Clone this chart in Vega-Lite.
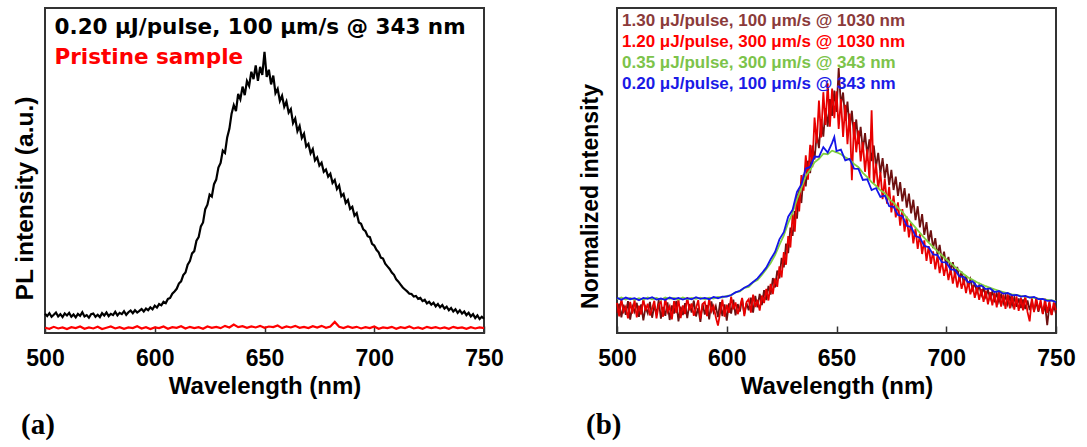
{
"$schema": "https://vega.github.io/schema/vega-lite/v6.json",
"padding": {"left": 11, "top": 7, "right": 5, "bottom": 0},
"bounds": "flush",
"spacing": 133,
"config": {"view": {"stroke": "#333333", "strokeWidth": 2}, "font": "Liberation Sans"},
"datasets": {
"namesA": [{"s": "k", "name": "0.20 μJ/pulse, 100 μm/s @ 343 nm"}, {"s": "r", "name": "Pristine sample"}],
"namesB": [{"s": "m", "name": "1.30 μJ/pulse, 100 μm/s @ 1030 nm"}, {"s": "r", "name": "1.20 μJ/pulse, 300 μm/s @ 1030 nm"}, {"s": "g", "name": "0.35 μJ/pulse, 300 μm/s @ 343 nm"}, {"s": "u", "name": "0.20 μJ/pulse, 100 μm/s @ 343 nm"}],
"a": [
{"s":"r","w":550,"v":1.6},{"s":"r","w":552,"v":1.3},{"s":"r","w":554,"v":1.9},{"s":"r","w":556,"v":1.4},{"s":"r","w":558,"v":1.7},{"s":"r","w":560,"v":1.2},{"s":"r","w":562,"v":1.8},{"s":"r","w":564,"v":1.5},{"s":"r","w":566,"v":2.0},{"s":"r","w":568,"v":1.3},{"s":"r","w":570,"v":1.7},{"s":"r","w":572,"v":1.4},{"s":"r","w":574,"v":1.9},{"s":"r","w":576,"v":1.2},{"s":"r","w":578,"v":1.6},{"s":"r","w":580,"v":2.0},{"s":"r","w":582,"v":1.4},{"s":"r","w":584,"v":1.8},{"s":"r","w":586,"v":1.3},{"s":"r","w":588,"v":1.7},{"s":"r","w":590,"v":1.5},{"s":"r","w":592,"v":2.1},{"s":"r","w":594,"v":1.4},{"s":"r","w":596,"v":1.8},{"s":"r","w":598,"v":1.2},{"s":"r","w":600,"v":1.7},{"s":"r","w":602,"v":1.5},{"s":"r","w":604,"v":2.0},{"s":"r","w":606,"v":1.3},{"s":"r","w":608,"v":1.8},{"s":"r","w":610,"v":1.6},{"s":"r","w":612,"v":2.1},{"s":"r","w":614,"v":1.4},{"s":"r","w":616,"v":1.9},{"s":"r","w":618,"v":1.5},{"s":"r","w":620,"v":1.8},{"s":"r","w":622,"v":1.3},{"s":"r","w":624,"v":2.0},{"s":"r","w":626,"v":1.6},{"s":"r","w":628,"v":1.9},{"s":"r","w":630,"v":1.5},{"s":"r","w":632,"v":2.2},{"s":"r","w":634,"v":1.7},{"s":"r","w":636,"v":2.6},{"s":"r","w":638,"v":1.8},{"s":"r","w":640,"v":2.1},{"s":"r","w":642,"v":1.6},{"s":"r","w":644,"v":2.0},{"s":"r","w":646,"v":1.7},{"s":"r","w":648,"v":2.2},{"s":"r","w":650,"v":1.6},{"s":"r","w":652,"v":2.0},{"s":"r","w":654,"v":1.8},{"s":"r","w":656,"v":2.3},{"s":"r","w":658,"v":1.5},{"s":"r","w":660,"v":2.0},{"s":"r","w":662,"v":1.7},{"s":"r","w":664,"v":2.2},{"s":"r","w":666,"v":1.6},{"s":"r","w":668,"v":1.9},{"s":"r","w":670,"v":1.5},{"s":"r","w":672,"v":2.1},{"s":"r","w":674,"v":1.7},{"s":"r","w":676,"v":2.2},{"s":"r","w":678,"v":1.6},{"s":"r","w":680,"v":2.0},{"s":"r","w":682,"v":3.4},{"s":"r","w":684,"v":1.9},{"s":"r","w":686,"v":1.5},{"s":"r","w":688,"v":2.0},{"s":"r","w":690,"v":1.6},{"s":"r","w":692,"v":1.9},{"s":"r","w":694,"v":1.4},{"s":"r","w":696,"v":1.8},{"s":"r","w":698,"v":1.5},{"s":"r","w":700,"v":2.0},{"s":"r","w":702,"v":1.3},{"s":"r","w":704,"v":1.7},{"s":"r","w":706,"v":1.5},{"s":"r","w":708,"v":1.9},{"s":"r","w":710,"v":1.3},{"s":"r","w":712,"v":1.8},{"s":"r","w":714,"v":1.5},{"s":"r","w":716,"v":2.0},{"s":"r","w":718,"v":1.4},{"s":"r","w":720,"v":1.7},{"s":"r","w":722,"v":1.3},{"s":"r","w":724,"v":1.9},{"s":"r","w":726,"v":1.5},{"s":"r","w":728,"v":1.8},{"s":"r","w":730,"v":1.4},{"s":"r","w":732,"v":1.7},{"s":"r","w":734,"v":1.3},{"s":"r","w":736,"v":1.9},{"s":"r","w":738,"v":1.5},{"s":"r","w":740,"v":1.7},{"s":"r","w":742,"v":1.3},{"s":"r","w":744,"v":1.8},{"s":"r","w":746,"v":1.4},{"s":"r","w":748,"v":1.7},{"s":"r","w":750,"v":1.5},
{"s":"k","w":550,"v":5.9},{"s":"k","w":551,"v":5.2},{"s":"k","w":552,"v":6.1},{"s":"k","w":553,"v":5.0},{"s":"k","w":554,"v":5.6},{"s":"k","w":555,"v":6.3},{"s":"k","w":556,"v":5.1},{"s":"k","w":557,"v":5.8},{"s":"k","w":558,"v":4.9},{"s":"k","w":559,"v":6.0},{"s":"k","w":560,"v":5.4},{"s":"k","w":561,"v":6.2},{"s":"k","w":562,"v":5.0},{"s":"k","w":563,"v":5.7},{"s":"k","w":564,"v":4.8},{"s":"k","w":565,"v":5.9},{"s":"k","w":566,"v":5.3},{"s":"k","w":567,"v":6.4},{"s":"k","w":568,"v":5.1},{"s":"k","w":569,"v":5.5},{"s":"k","w":570,"v":4.7},{"s":"k","w":571,"v":5.8},{"s":"k","w":572,"v":6.0},{"s":"k","w":573,"v":5.0},{"s":"k","w":574,"v":5.6},{"s":"k","w":575,"v":4.9},{"s":"k","w":576,"v":6.1},{"s":"k","w":577,"v":5.4},{"s":"k","w":578,"v":6.3},{"s":"k","w":579,"v":5.2},{"s":"k","w":580,"v":5.9},{"s":"k","w":581,"v":5.5},{"s":"k","w":582,"v":6.5},{"s":"k","w":583,"v":5.4},{"s":"k","w":584,"v":6.2},{"s":"k","w":585,"v":5.8},{"s":"k","w":586,"v":6.7},{"s":"k","w":587,"v":5.6},{"s":"k","w":588,"v":6.4},{"s":"k","w":589,"v":6.9},{"s":"k","w":590,"v":6.1},{"s":"k","w":591,"v":7.0},{"s":"k","w":592,"v":6.3},{"s":"k","w":593,"v":6.8},{"s":"k","w":594,"v":7.4},{"s":"k","w":595,"v":6.6},{"s":"k","w":596,"v":7.5},{"s":"k","w":597,"v":7.0},{"s":"k","w":598,"v":7.9},{"s":"k","w":599,"v":7.3},{"s":"k","w":600,"v":8.4},{"s":"k","w":601,"v":7.8},{"s":"k","w":602,"v":8.9},{"s":"k","w":603,"v":8.5},{"s":"k","w":604,"v":9.6},{"s":"k","w":605,"v":9.2},{"s":"k","w":606,"v":10.5},{"s":"k","w":607,"v":10.8},{"s":"k","w":608,"v":12.1},{"s":"k","w":609,"v":12.8},{"s":"k","w":610,"v":13.6},{"s":"k","w":611,"v":15.2},{"s":"k","w":612,"v":15.9},{"s":"k","w":613,"v":17.8},{"s":"k","w":614,"v":18.6},{"s":"k","w":615,"v":21.0},{"s":"k","w":616,"v":22.1},{"s":"k","w":617,"v":24.5},{"s":"k","w":618,"v":25.2},{"s":"k","w":619,"v":28.4},{"s":"k","w":620,"v":29.5},{"s":"k","w":621,"v":32.8},{"s":"k","w":622,"v":34.0},{"s":"k","w":623,"v":38.1},{"s":"k","w":624,"v":39.5},{"s":"k","w":625,"v":42.6},{"s":"k","w":626,"v":42.0},{"s":"k","w":627,"v":45.8},{"s":"k","w":628,"v":47.2},{"s":"k","w":629,"v":50.9},{"s":"k","w":630,"v":52.3},{"s":"k","w":631,"v":56.1},{"s":"k","w":632,"v":55.4},{"s":"k","w":633,"v":60.2},{"s":"k","w":634,"v":62.8},{"s":"k","w":635,"v":67.5},{"s":"k","w":636,"v":70.1},{"s":"k","w":637,"v":68.3},{"s":"k","w":638,"v":73.6},{"s":"k","w":639,"v":71.9},{"s":"k","w":640,"v":75.8},{"s":"k","w":641,"v":73.2},{"s":"k","w":642,"v":77.5},{"s":"k","w":643,"v":76.0},{"s":"k","w":644,"v":80.4},{"s":"k","w":645,"v":78.1},{"s":"k","w":646,"v":82.3},{"s":"k","w":647,"v":77.6},{"s":"k","w":648,"v":81.9},{"s":"k","w":649,"v":79.4},{"s":"k","w":650,"v":86.5},{"s":"k","w":651,"v":78.8},{"s":"k","w":652,"v":81.0},{"s":"k","w":653,"v":76.5},{"s":"k","w":654,"v":79.2},{"s":"k","w":655,"v":73.8},{"s":"k","w":656,"v":75.1},{"s":"k","w":657,"v":71.4},{"s":"k","w":658,"v":73.0},{"s":"k","w":659,"v":69.6},{"s":"k","w":660,"v":71.2},{"s":"k","w":661,"v":67.8},{"s":"k","w":662,"v":68.9},{"s":"k","w":663,"v":64.6},{"s":"k","w":664,"v":66.0},{"s":"k","w":665,"v":62.1},{"s":"k","w":666,"v":63.7},{"s":"k","w":667,"v":60.0},{"s":"k","w":668,"v":61.3},{"s":"k","w":669,"v":57.4},{"s":"k","w":670,"v":58.2},{"s":"k","w":671,"v":55.3},{"s":"k","w":672,"v":56.6},{"s":"k","w":673,"v":53.1},{"s":"k","w":674,"v":54.0},{"s":"k","w":675,"v":51.5},{"s":"k","w":676,"v":52.4},{"s":"k","w":677,"v":49.6},{"s":"k","w":678,"v":50.3},{"s":"k","w":679,"v":48.1},{"s":"k","w":680,"v":49.0},{"s":"k","w":681,"v":46.2},{"s":"k","w":682,"v":47.1},{"s":"k","w":683,"v":44.3},{"s":"k","w":684,"v":45.4},{"s":"k","w":685,"v":42.1},{"s":"k","w":686,"v":42.8},{"s":"k","w":687,"v":40.0},{"s":"k","w":688,"v":40.9},{"s":"k","w":689,"v":38.2},{"s":"k","w":690,"v":38.8},{"s":"k","w":691,"v":36.1},{"s":"k","w":692,"v":36.9},{"s":"k","w":693,"v":34.0},{"s":"k","w":694,"v":33.6},{"s":"k","w":695,"v":31.9},{"s":"k","w":696,"v":31.3},{"s":"k","w":697,"v":29.8},{"s":"k","w":698,"v":29.5},{"s":"k","w":699,"v":27.4},{"s":"k","w":700,"v":26.9},{"s":"k","w":701,"v":25.6},{"s":"k","w":702,"v":24.8},{"s":"k","w":703,"v":23.2},{"s":"k","w":704,"v":22.9},{"s":"k","w":705,"v":21.3},{"s":"k","w":706,"v":20.5},{"s":"k","w":707,"v":19.7},{"s":"k","w":708,"v":18.6},{"s":"k","w":709,"v":17.9},{"s":"k","w":710,"v":16.5},{"s":"k","w":711,"v":15.8},{"s":"k","w":712,"v":14.9},{"s":"k","w":713,"v":14.0},{"s":"k","w":714,"v":13.4},{"s":"k","w":715,"v":12.8},{"s":"k","w":716,"v":12.1},{"s":"k","w":717,"v":12.0},{"s":"k","w":718,"v":11.2},{"s":"k","w":719,"v":11.4},{"s":"k","w":720,"v":10.5},{"s":"k","w":721,"v":10.8},{"s":"k","w":722,"v":9.8},{"s":"k","w":723,"v":10.2},{"s":"k","w":724,"v":9.1},{"s":"k","w":725,"v":9.6},{"s":"k","w":726,"v":8.7},{"s":"k","w":727,"v":9.3},{"s":"k","w":728,"v":8.2},{"s":"k","w":729,"v":8.9},{"s":"k","w":730,"v":7.9},{"s":"k","w":731,"v":8.6},{"s":"k","w":732,"v":7.5},{"s":"k","w":733,"v":8.1},{"s":"k","w":734,"v":7.0},{"s":"k","w":735,"v":7.7},{"s":"k","w":736,"v":6.6},{"s":"k","w":737,"v":7.3},{"s":"k","w":738,"v":6.2},{"s":"k","w":739,"v":7.0},{"s":"k","w":740,"v":6.0},{"s":"k","w":741,"v":6.6},{"s":"k","w":742,"v":5.5},{"s":"k","w":743,"v":6.2},{"s":"k","w":744,"v":5.1},{"s":"k","w":745,"v":5.8},{"s":"k","w":746,"v":4.6},{"s":"k","w":747,"v":5.4},{"s":"k","w":748,"v":4.3},{"s":"k","w":749,"v":5.0},{"s":"k","w":750,"v":4.4}
],
"b": [
{"s":"m","w":550,"v":6.2},{"s":"m","w":551,"v":9.0},{"s":"m","w":552,"v":4.8},{"s":"m","w":553,"v":8.7},{"s":"m","w":554,"v":5.6},{"s":"m","w":555,"v":9.8},{"s":"m","w":556,"v":4.1},{"s":"m","w":557,"v":8.2},{"s":"m","w":558,"v":6.5},{"s":"m","w":559,"v":9.3},{"s":"m","w":560,"v":5.0},{"s":"m","w":561,"v":8.8},{"s":"m","w":562,"v":3.9},{"s":"m","w":563,"v":7.9},{"s":"m","w":564,"v":6.1},{"s":"m","w":565,"v":9.6},{"s":"m","w":566,"v":4.7},{"s":"m","w":567,"v":8.4},{"s":"m","w":568,"v":5.9},{"s":"m","w":569,"v":10.1},{"s":"m","w":570,"v":4.4},{"s":"m","w":571,"v":8.0},{"s":"m","w":572,"v":5.3},{"s":"m","w":573,"v":9.4},{"s":"m","w":574,"v":4.0},{"s":"m","w":575,"v":8.5},{"s":"m","w":576,"v":6.0},{"s":"m","w":577,"v":9.9},{"s":"m","w":578,"v":3.6},{"s":"m","w":579,"v":8.1},{"s":"m","w":580,"v":5.5},{"s":"m","w":581,"v":9.2},{"s":"m","w":582,"v":4.6},{"s":"m","w":583,"v":8.9},{"s":"m","w":584,"v":6.3},{"s":"m","w":585,"v":10.0},{"s":"m","w":586,"v":5.1},{"s":"m","w":587,"v":7.7},{"s":"m","w":588,"v":3.4},{"s":"m","w":589,"v":9.0},{"s":"m","w":590,"v":5.7},{"s":"m","w":591,"v":8.6},{"s":"m","w":592,"v":4.2},{"s":"m","w":593,"v":9.7},{"s":"m","w":594,"v":6.4},{"s":"m","w":595,"v":8.3},{"s":"m","w":596,"v":4.9},{"s":"m","w":597,"v":9.5},{"s":"m","w":598,"v":5.2},{"s":"m","w":599,"v":8.8},{"s":"m","w":600,"v":3.8},{"s":"m","w":601,"v":9.1},{"s":"m","w":602,"v":6.0},{"s":"m","w":603,"v":10.3},{"s":"m","w":604,"v":5.4},{"s":"m","w":605,"v":8.9},{"s":"m","w":606,"v":6.6},{"s":"m","w":607,"v":10.5},{"s":"m","w":608,"v":5.8},{"s":"m","w":609,"v":9.2},{"s":"m","w":610,"v":7.0},{"s":"m","w":611,"v":10.9},{"s":"m","w":612,"v":6.3},{"s":"m","w":613,"v":11.4},{"s":"m","w":614,"v":7.9},{"s":"m","w":615,"v":12.0},{"s":"m","w":616,"v":8.6},{"s":"m","w":617,"v":13.2},{"s":"m","w":618,"v":10.1},{"s":"m","w":619,"v":14.5},{"s":"m","w":620,"v":11.8},{"s":"m","w":621,"v":16.9},{"s":"m","w":622,"v":14.0},{"s":"m","w":623,"v":19.2},{"s":"m","w":624,"v":16.8},{"s":"m","w":625,"v":23.1},{"s":"m","w":626,"v":20.2},{"s":"m","w":627,"v":27.5},{"s":"m","w":628,"v":24.6},{"s":"m","w":629,"v":32.4},{"s":"m","w":630,"v":29.9},{"s":"m","w":631,"v":37.5},{"s":"m","w":632,"v":35.2},{"s":"m","w":633,"v":44.1},{"s":"m","w":634,"v":40.0},{"s":"m","w":635,"v":48.8},{"s":"m","w":636,"v":45.1},{"s":"m","w":637,"v":53.0},{"s":"m","w":638,"v":49.2},{"s":"m","w":639,"v":57.7},{"s":"m","w":640,"v":53.4},{"s":"m","w":641,"v":61.3},{"s":"m","w":642,"v":56.9},{"s":"m","w":643,"v":65.8},{"s":"m","w":644,"v":60.4},{"s":"m","w":645,"v":69.2},{"s":"m","w":646,"v":63.5},{"s":"m","w":647,"v":72.0},{"s":"m","w":648,"v":66.8},{"s":"m","w":649,"v":74.6},{"s":"m","w":650,"v":68.0},{"s":"m","w":651,"v":81.5},{"s":"m","w":652,"v":70.1},{"s":"m","w":653,"v":74.0},{"s":"m","w":654,"v":65.3},{"s":"m","w":655,"v":71.2},{"s":"m","w":656,"v":62.6},{"s":"m","w":657,"v":68.4},{"s":"m","w":658,"v":60.0},{"s":"m","w":659,"v":65.7},{"s":"m","w":660,"v":58.1},{"s":"m","w":661,"v":63.4},{"s":"m","w":662,"v":56.2},{"s":"m","w":663,"v":61.5},{"s":"m","w":664,"v":54.8},{"s":"m","w":665,"v":59.6},{"s":"m","w":666,"v":52.9},{"s":"m","w":667,"v":57.7},{"s":"m","w":668,"v":51.0},{"s":"m","w":669,"v":55.4},{"s":"m","w":670,"v":49.1},{"s":"m","w":671,"v":53.8},{"s":"m","w":672,"v":47.6},{"s":"m","w":673,"v":52.0},{"s":"m","w":674,"v":45.5},{"s":"m","w":675,"v":50.2},{"s":"m","w":676,"v":44.0},{"s":"m","w":677,"v":48.1},{"s":"m","w":678,"v":42.2},{"s":"m","w":679,"v":46.4},{"s":"m","w":680,"v":40.5},{"s":"m","w":681,"v":44.6},{"s":"m","w":682,"v":38.6},{"s":"m","w":683,"v":42.9},{"s":"m","w":684,"v":36.8},{"s":"m","w":685,"v":41.0},{"s":"m","w":686,"v":34.7},{"s":"m","w":687,"v":39.0},{"s":"m","w":688,"v":32.5},{"s":"m","w":689,"v":36.6},{"s":"m","w":690,"v":30.2},{"s":"m","w":691,"v":34.1},{"s":"m","w":692,"v":28.0},{"s":"m","w":693,"v":31.6},{"s":"m","w":694,"v":26.1},{"s":"m","w":695,"v":29.2},{"s":"m","w":696,"v":24.0},{"s":"m","w":697,"v":27.1},{"s":"m","w":698,"v":22.3},{"s":"m","w":699,"v":25.0},{"s":"m","w":700,"v":20.6},{"s":"m","w":701,"v":23.4},{"s":"m","w":702,"v":19.1},{"s":"m","w":703,"v":21.8},{"s":"m","w":704,"v":17.7},{"s":"m","w":705,"v":20.3},{"s":"m","w":706,"v":16.4},{"s":"m","w":707,"v":18.9},{"s":"m","w":708,"v":15.2},{"s":"m","w":709,"v":17.6},{"s":"m","w":710,"v":14.3},{"s":"m","w":711,"v":16.5},{"s":"m","w":712,"v":13.4},{"s":"m","w":713,"v":15.4},{"s":"m","w":714,"v":12.5},{"s":"m","w":715,"v":14.6},{"s":"m","w":716,"v":11.8},{"s":"m","w":717,"v":13.9},{"s":"m","w":718,"v":11.2},{"s":"m","w":719,"v":13.3},{"s":"m","w":720,"v":10.6},{"s":"m","w":721,"v":12.8},{"s":"m","w":722,"v":10.1},{"s":"m","w":723,"v":12.2},{"s":"m","w":724,"v":9.6},{"s":"m","w":725,"v":11.9},{"s":"m","w":726,"v":9.2},{"s":"m","w":727,"v":11.5},{"s":"m","w":728,"v":8.8},{"s":"m","w":729,"v":11.2},{"s":"m","w":730,"v":8.5},{"s":"m","w":731,"v":10.9},{"s":"m","w":732,"v":8.1},{"s":"m","w":733,"v":10.6},{"s":"m","w":734,"v":7.7},{"s":"m","w":735,"v":10.3},{"s":"m","w":736,"v":7.4},{"s":"m","w":737,"v":10.0},{"s":"m","w":738,"v":7.1},{"s":"m","w":739,"v":9.8},{"s":"m","w":740,"v":6.8},{"s":"m","w":741,"v":9.5},{"s":"m","w":742,"v":6.5},{"s":"m","w":743,"v":9.2},{"s":"m","w":744,"v":5.9},{"s":"m","w":745,"v":8.9},{"s":"m","w":746,"v":2.4},{"s":"m","w":747,"v":8.6},{"s":"m","w":748,"v":5.6},{"s":"m","w":749,"v":8.4},{"s":"m","w":750,"v":6.0},
{"s":"r","w":550,"v":9.3},{"s":"r","w":551,"v":5.1},{"s":"r","w":552,"v":10.5},{"s":"r","w":553,"v":6.6},{"s":"r","w":554,"v":8.1},{"s":"r","w":555,"v":4.5},{"s":"r","w":556,"v":9.6},{"s":"r","w":557,"v":6.0},{"s":"r","w":558,"v":10.2},{"s":"r","w":559,"v":4.8},{"s":"r","w":560,"v":8.4},{"s":"r","w":561,"v":5.7},{"s":"r","w":562,"v":10.5},{"s":"r","w":563,"v":6.9},{"s":"r","w":564,"v":9.0},{"s":"r","w":565,"v":5.4},{"s":"r","w":566,"v":7.5},{"s":"r","w":567,"v":9.9},{"s":"r","w":568,"v":4.5},{"s":"r","w":569,"v":8.7},{"s":"r","w":570,"v":9.6},{"s":"r","w":571,"v":5.0},{"s":"r","w":572,"v":10.8},{"s":"r","w":573,"v":6.5},{"s":"r","w":574,"v":8.2},{"s":"r","w":575,"v":4.2},{"s":"r","w":576,"v":9.8},{"s":"r","w":577,"v":6.1},{"s":"r","w":578,"v":10.4},{"s":"r","w":579,"v":4.6},{"s":"r","w":580,"v":8.5},{"s":"r","w":581,"v":5.8},{"s":"r","w":582,"v":11.0},{"s":"r","w":583,"v":7.0},{"s":"r","w":584,"v":9.1},{"s":"r","w":585,"v":5.3},{"s":"r","w":586,"v":7.6},{"s":"r","w":587,"v":10.1},{"s":"r","w":588,"v":4.4},{"s":"r","w":589,"v":8.9},{"s":"r","w":590,"v":9.5},{"s":"r","w":591,"v":5.2},{"s":"r","w":592,"v":10.6},{"s":"r","w":593,"v":6.7},{"s":"r","w":594,"v":8.3},{"s":"r","w":595,"v":4.9},{"s":"r","w":596,"v":2.3},{"s":"r","w":597,"v":6.3},{"s":"r","w":598,"v":10.3},{"s":"r","w":599,"v":5.0},{"s":"r","w":600,"v":8.7},{"s":"r","w":601,"v":6.2},{"s":"r","w":602,"v":11.2},{"s":"r","w":603,"v":7.3},{"s":"r","w":604,"v":9.4},{"s":"r","w":605,"v":5.8},{"s":"r","w":606,"v":8.0},{"s":"r","w":607,"v":10.8},{"s":"r","w":608,"v":5.2},{"s":"r","w":609,"v":9.5},{"s":"r","w":610,"v":10.4},{"s":"r","w":611,"v":6.3},{"s":"r","w":612,"v":11.8},{"s":"r","w":613,"v":8.0},{"s":"r","w":614,"v":10.2},{"s":"r","w":615,"v":6.9},{"s":"r","w":616,"v":11.5},{"s":"r","w":617,"v":9.2},{"s":"r","w":618,"v":13.6},{"s":"r","w":619,"v":10.0},{"s":"r","w":620,"v":15.1},{"s":"r","w":621,"v":12.0},{"s":"r","w":622,"v":16.8},{"s":"r","w":623,"v":14.2},{"s":"r","w":624,"v":20.5},{"s":"r","w":625,"v":17.1},{"s":"r","w":626,"v":24.9},{"s":"r","w":627,"v":21.0},{"s":"r","w":628,"v":29.8},{"s":"r","w":629,"v":26.3},{"s":"r","w":630,"v":36.5},{"s":"r","w":631,"v":31.2},{"s":"r","w":632,"v":43.0},{"s":"r","w":633,"v":37.4},{"s":"r","w":634,"v":48.6},{"s":"r","w":635,"v":43.8},{"s":"r","w":636,"v":54.7},{"s":"r","w":637,"v":47.2},{"s":"r","w":638,"v":57.9},{"s":"r","w":639,"v":51.0},{"s":"r","w":640,"v":66.3},{"s":"r","w":641,"v":58.4},{"s":"r","w":642,"v":71.5},{"s":"r","w":643,"v":60.2},{"s":"r","w":644,"v":74.1},{"s":"r","w":645,"v":64.0},{"s":"r","w":646,"v":76.8},{"s":"r","w":647,"v":63.5},{"s":"r","w":648,"v":75.2},{"s":"r","w":649,"v":66.1},{"s":"r","w":650,"v":74.4},{"s":"r","w":651,"v":62.8},{"s":"r","w":652,"v":72.0},{"s":"r","w":653,"v":60.3},{"s":"r","w":654,"v":70.2},{"s":"r","w":655,"v":58.1},{"s":"r","w":656,"v":67.5},{"s":"r","w":657,"v":47.0},{"s":"r","w":658,"v":64.9},{"s":"r","w":659,"v":55.6},{"s":"r","w":660,"v":62.3},{"s":"r","w":661,"v":52.8},{"s":"r","w":662,"v":58.7},{"s":"r","w":663,"v":49.6},{"s":"r","w":664,"v":56.5},{"s":"r","w":665,"v":47.2},{"s":"r","w":666,"v":68.5},{"s":"r","w":667,"v":46.0},{"s":"r","w":668,"v":52.1},{"s":"r","w":669,"v":44.3},{"s":"r","w":670,"v":49.5},{"s":"r","w":671,"v":41.2},{"s":"r","w":672,"v":47.4},{"s":"r","w":673,"v":39.8},{"s":"r","w":674,"v":45.0},{"s":"r","w":675,"v":37.1},{"s":"r","w":676,"v":42.3},{"s":"r","w":677,"v":35.6},{"s":"r","w":678,"v":40.2},{"s":"r","w":679,"v":33.0},{"s":"r","w":680,"v":38.1},{"s":"r","w":681,"v":31.2},{"s":"r","w":682,"v":35.8},{"s":"r","w":683,"v":29.4},{"s":"r","w":684,"v":34.0},{"s":"r","w":685,"v":27.6},{"s":"r","w":686,"v":32.1},{"s":"r","w":687,"v":25.9},{"s":"r","w":688,"v":30.4},{"s":"r","w":689,"v":24.3},{"s":"r","w":690,"v":28.5},{"s":"r","w":691,"v":22.2},{"s":"r","w":692,"v":26.7},{"s":"r","w":693,"v":21.3},{"s":"r","w":694,"v":25.1},{"s":"r","w":695,"v":19.6},{"s":"r","w":696,"v":23.9},{"s":"r","w":697,"v":18.4},{"s":"r","w":698,"v":22.2},{"s":"r","w":699,"v":17.6},{"s":"r","w":700,"v":21.0},{"s":"r","w":701,"v":16.3},{"s":"r","w":702,"v":19.8},{"s":"r","w":703,"v":15.2},{"s":"r","w":704,"v":18.9},{"s":"r","w":705,"v":14.0},{"s":"r","w":706,"v":17.5},{"s":"r","w":707,"v":13.6},{"s":"r","w":708,"v":16.4},{"s":"r","w":709,"v":12.3},{"s":"r","w":710,"v":15.8},{"s":"r","w":711,"v":11.9},{"s":"r","w":712,"v":14.6},{"s":"r","w":713,"v":10.8},{"s":"r","w":714,"v":14.1},{"s":"r","w":715,"v":10.2},{"s":"r","w":716,"v":13.5},{"s":"r","w":717,"v":9.6},{"s":"r","w":718,"v":13.0},{"s":"r","w":719,"v":8.8},{"s":"r","w":720,"v":12.6},{"s":"r","w":721,"v":8.5},{"s":"r","w":722,"v":12.3},{"s":"r","w":723,"v":7.9},{"s":"r","w":724,"v":12.8},{"s":"r","w":725,"v":8.1},{"s":"r","w":726,"v":11.9},{"s":"r","w":727,"v":7.4},{"s":"r","w":728,"v":12.2},{"s":"r","w":729,"v":7.6},{"s":"r","w":730,"v":11.6},{"s":"r","w":731,"v":7.2},{"s":"r","w":732,"v":11.3},{"s":"r","w":733,"v":6.8},{"s":"r","w":734,"v":10.9},{"s":"r","w":735,"v":7.0},{"s":"r","w":736,"v":11.5},{"s":"r","w":737,"v":6.5},{"s":"r","w":738,"v":3.6},{"s":"r","w":739,"v":10.8},{"s":"r","w":740,"v":6.4},{"s":"r","w":741,"v":11.0},{"s":"r","w":742,"v":6.9},{"s":"r","w":743,"v":10.2},{"s":"r","w":744,"v":5.8},{"s":"r","w":745,"v":10.6},{"s":"r","w":746,"v":6.2},{"s":"r","w":747,"v":9.8},{"s":"r","w":748,"v":5.5},{"s":"r","w":749,"v":9.4},{"s":"r","w":750,"v":7.0},
{"s":"g","w":550,"v":10.4},{"s":"g","w":552,"v":10.9},{"s":"g","w":554,"v":10.3},{"s":"g","w":556,"v":10.8},{"s":"g","w":558,"v":10.2},{"s":"g","w":560,"v":10.7},{"s":"g","w":562,"v":10.3},{"s":"g","w":564,"v":10.9},{"s":"g","w":566,"v":10.4},{"s":"g","w":568,"v":10.8},{"s":"g","w":570,"v":10.2},{"s":"g","w":572,"v":10.9},{"s":"g","w":574,"v":10.5},{"s":"g","w":576,"v":10.8},{"s":"g","w":578,"v":10.3},{"s":"g","w":580,"v":10.9},{"s":"g","w":582,"v":10.4},{"s":"g","w":584,"v":10.8},{"s":"g","w":586,"v":10.5},{"s":"g","w":588,"v":10.9},{"s":"g","w":590,"v":10.4},{"s":"g","w":592,"v":10.9},{"s":"g","w":594,"v":10.6},{"s":"g","w":596,"v":11.1},{"s":"g","w":598,"v":10.9},{"s":"g","w":600,"v":11.4},{"s":"g","w":602,"v":11.6},{"s":"g","w":604,"v":12.5},{"s":"g","w":606,"v":12.8},{"s":"g","w":608,"v":13.9},{"s":"g","w":610,"v":14.2},{"s":"g","w":612,"v":15.6},{"s":"g","w":614,"v":16.3},{"s":"g","w":616,"v":17.9},{"s":"g","w":618,"v":19.6},{"s":"g","w":620,"v":21.5},{"s":"g","w":622,"v":24.0},{"s":"g","w":624,"v":27.1},{"s":"g","w":626,"v":30.0},{"s":"g","w":628,"v":33.9},{"s":"g","w":630,"v":37.0},{"s":"g","w":632,"v":41.2},{"s":"g","w":634,"v":44.6},{"s":"g","w":636,"v":48.3},{"s":"g","w":638,"v":50.2},{"s":"g","w":640,"v":52.5},{"s":"g","w":642,"v":53.6},{"s":"g","w":644,"v":55.2},{"s":"g","w":646,"v":55.0},{"s":"g","w":648,"v":56.1},{"s":"g","w":650,"v":55.6},{"s":"g","w":652,"v":55.0},{"s":"g","w":654,"v":54.1},{"s":"g","w":656,"v":53.3},{"s":"g","w":658,"v":52.0},{"s":"g","w":660,"v":51.0},{"s":"g","w":662,"v":49.3},{"s":"g","w":664,"v":48.0},{"s":"g","w":666,"v":46.4},{"s":"g","w":668,"v":45.3},{"s":"g","w":670,"v":43.9},{"s":"g","w":672,"v":43.0},{"s":"g","w":674,"v":41.2},{"s":"g","w":676,"v":40.1},{"s":"g","w":678,"v":38.5},{"s":"g","w":680,"v":37.3},{"s":"g","w":682,"v":35.5},{"s":"g","w":684,"v":34.0},{"s":"g","w":686,"v":32.4},{"s":"g","w":688,"v":30.8},{"s":"g","w":690,"v":29.3},{"s":"g","w":692,"v":27.8},{"s":"g","w":694,"v":26.5},{"s":"g","w":696,"v":25.1},{"s":"g","w":698,"v":23.9},{"s":"g","w":700,"v":22.7},{"s":"g","w":702,"v":21.5},{"s":"g","w":704,"v":20.3},{"s":"g","w":706,"v":19.2},{"s":"g","w":708,"v":18.1},{"s":"g","w":710,"v":17.1},{"s":"g","w":712,"v":16.4},{"s":"g","w":714,"v":15.6},{"s":"g","w":716,"v":15.0},{"s":"g","w":718,"v":14.4},{"s":"g","w":720,"v":13.9},{"s":"g","w":722,"v":13.4},{"s":"g","w":724,"v":13.0},{"s":"g","w":726,"v":12.6},{"s":"g","w":728,"v":12.2},{"s":"g","w":730,"v":11.9},{"s":"g","w":732,"v":11.7},{"s":"g","w":734,"v":11.4},{"s":"g","w":736,"v":11.2},{"s":"g","w":738,"v":11.0},{"s":"g","w":740,"v":10.8},{"s":"g","w":742,"v":10.6},{"s":"g","w":744,"v":10.4},{"s":"g","w":746,"v":10.2},{"s":"g","w":748,"v":10.0},{"s":"g","w":750,"v":9.8},
{"s":"u","w":550,"v":10.8},{"s":"u","w":552,"v":10.2},{"s":"u","w":554,"v":10.9},{"s":"u","w":556,"v":10.4},{"s":"u","w":558,"v":10.7},{"s":"u","w":560,"v":10.1},{"s":"u","w":562,"v":10.8},{"s":"u","w":564,"v":10.5},{"s":"u","w":566,"v":11.0},{"s":"u","w":568,"v":10.3},{"s":"u","w":570,"v":10.6},{"s":"u","w":572,"v":10.2},{"s":"u","w":574,"v":10.9},{"s":"u","w":576,"v":10.4},{"s":"u","w":578,"v":10.8},{"s":"u","w":580,"v":10.3},{"s":"u","w":582,"v":10.7},{"s":"u","w":584,"v":10.4},{"s":"u","w":586,"v":11.0},{"s":"u","w":588,"v":10.5},{"s":"u","w":590,"v":10.8},{"s":"u","w":592,"v":10.4},{"s":"u","w":594,"v":11.1},{"s":"u","w":596,"v":10.7},{"s":"u","w":598,"v":11.2},{"s":"u","w":600,"v":11.2},{"s":"u","w":602,"v":11.7},{"s":"u","w":604,"v":12.5},{"s":"u","w":606,"v":13.0},{"s":"u","w":608,"v":13.9},{"s":"u","w":610,"v":14.6},{"s":"u","w":612,"v":15.7},{"s":"u","w":614,"v":16.8},{"s":"u","w":616,"v":18.4},{"s":"u","w":618,"v":20.1},{"s":"u","w":620,"v":22.7},{"s":"u","w":622,"v":24.9},{"s":"u","w":624,"v":28.8},{"s":"u","w":626,"v":31.0},{"s":"u","w":628,"v":35.8},{"s":"u","w":630,"v":37.9},{"s":"u","w":632,"v":43.4},{"s":"u","w":634,"v":45.7},{"s":"u","w":636,"v":50.6},{"s":"u","w":638,"v":51.1},{"s":"u","w":640,"v":54.3},{"s":"u","w":642,"v":54.2},{"s":"u","w":644,"v":57.2},{"s":"u","w":646,"v":55.5},{"s":"u","w":648,"v":58.5},{"s":"u","w":649,"v":60.3},{"s":"u","w":650,"v":56.0},{"s":"u","w":652,"v":56.4},{"s":"u","w":654,"v":53.1},{"s":"u","w":656,"v":53.6},{"s":"u","w":658,"v":50.6},{"s":"u","w":660,"v":50.5},{"s":"u","w":662,"v":47.1},{"s":"u","w":664,"v":47.3},{"s":"u","w":666,"v":44.0},{"s":"u","w":668,"v":44.6},{"s":"u","w":670,"v":41.9},{"s":"u","w":672,"v":42.3},{"s":"u","w":674,"v":39.0},{"s":"u","w":676,"v":38.8},{"s":"u","w":678,"v":36.3},{"s":"u","w":680,"v":36.0},{"s":"u","w":682,"v":33.0},{"s":"u","w":684,"v":32.6},{"s":"u","w":686,"v":29.8},{"s":"u","w":688,"v":29.3},{"s":"u","w":690,"v":26.8},{"s":"u","w":692,"v":26.4},{"s":"u","w":694,"v":24.2},{"s":"u","w":696,"v":24.0},{"s":"u","w":698,"v":21.8},{"s":"u","w":700,"v":21.7},{"s":"u","w":702,"v":19.6},{"s":"u","w":704,"v":19.4},{"s":"u","w":706,"v":17.4},{"s":"u","w":708,"v":17.3},{"s":"u","w":710,"v":15.6},{"s":"u","w":712,"v":15.9},{"s":"u","w":714,"v":14.3},{"s":"u","w":716,"v":14.6},{"s":"u","w":718,"v":13.5},{"s":"u","w":720,"v":13.7},{"s":"u","w":722,"v":12.6},{"s":"u","w":724,"v":12.9},{"s":"u","w":726,"v":12.1},{"s":"u","w":728,"v":12.3},{"s":"u","w":730,"v":11.6},{"s":"u","w":732,"v":11.7},{"s":"u","w":734,"v":11.2},{"s":"u","w":736,"v":11.4},{"s":"u","w":738,"v":10.9},{"s":"u","w":740,"v":11.1},{"s":"u","w":742,"v":10.4},{"s":"u","w":744,"v":10.5},{"s":"u","w":746,"v":9.9},{"s":"u","w":748,"v":10.0},{"s":"u","w":750,"v":9.5}
]
},
"hconcat": [
{
"width": 439, "height": 325,
"data": {"name": "a"},
"transform": [{"lookup": "s", "from": {"data": {"name": "namesA"}, "key": "s", "fields": ["name"]}}],
"title": {"text": "(a)", "orient": "bottom", "anchor": "start", "frame": "group", "font": "Liberation Serif", "fontSize": 29, "fontWeight": "bold", "color": "#000000", "dx": -24, "offset": 13},
"mark": {"type": "line", "strokeWidth": 2.2},
"encoding": {
"x": {"field": "w", "type": "quantitative", "scale": {"domain": [550, 750], "nice": false, "zero": false},
 "axis": {"values": [550, 600, 650, 700, 750], "labelExpr": "datum.value == 550 ? '500' : datum.label", "labelFlush": false, "labelFont": "Liberation Sans", "labelFontSize": 23, "labelFontWeight": "bold", "labelColor": "#000000", "labelPadding": 21, "tickSize": -7, "tickColor": "#333333", "tickWidth": 1.5, "domain": false, "grid": false, "title": "Wavelength (nm)", "titleFont": "Liberation Sans", "titleFontSize": 24, "titleFontWeight": "bold", "titleColor": "#000000", "titlePadding": 4}},
"y": {"field": "v", "type": "quantitative", "scale": {"domain": [0, 100], "nice": false},
 "axis": {"labels": false, "ticks": false, "domain": false, "grid": false, "title": "PL intensity (a.u.)", "titleFont": "Liberation Sans", "titleFontSize": 24.5, "titleFontWeight": "bold", "titleColor": "#000000", "titlePadding": 8, "titleY": 190}},
"color": {"field": "name", "type": "nominal",
 "scale": {"domain": ["0.20 μJ/pulse, 100 μm/s @ 343 nm", "Pristine sample"], "range": ["#000000", "#ff0000"]},
 "legend": {"orient": "top-left", "title": null, "offset": 9, "padding": 0, "symbolOpacity": 0, "symbolSize": 0, "symbolStrokeWidth": 0, "labelOffset": -21, "labelFont": "DejaVu Sans", "labelFontSize": 21.5, "labelFontWeight": "bold", "labelLimit": 700, "rowPadding": 7.5, "labelColor": {"expr": "datum.value == 'Pristine sample' ? '#ff0000' : '#000000'"}}}
}
},
{
"width": 439, "height": 325,
"data": {"name": "b"},
"transform": [{"lookup": "s", "from": {"data": {"name": "namesB"}, "key": "s", "fields": ["name"]}}],
"title": {"text": "(b)", "orient": "bottom", "anchor": "start", "frame": "group", "font": "Liberation Serif", "fontSize": 29, "fontWeight": "bold", "color": "#000000", "dx": -31, "offset": 13},
"mark": {"type": "line", "strokeWidth": 1.8},
"encoding": {
"x": {"field": "w", "type": "quantitative", "scale": {"domain": [550, 750], "nice": false, "zero": false},
 "axis": {"values": [550, 600, 650, 700, 750], "labelExpr": "datum.value == 550 ? '500' : datum.label", "labelFlush": false, "labelFont": "Liberation Sans", "labelFontSize": 23, "labelFontWeight": "bold", "labelColor": "#000000", "labelPadding": 21, "tickSize": -7, "tickColor": "#333333", "tickWidth": 1.5, "domain": false, "grid": false, "title": "Wavelength (nm)", "titleFont": "Liberation Sans", "titleFontSize": 24, "titleFontWeight": "bold", "titleColor": "#000000", "titlePadding": 4}},
"y": {"field": "v", "type": "quantitative", "scale": {"domain": [0, 100], "nice": false},
 "axis": {"labels": false, "ticks": false, "domain": false, "grid": false, "title": "Normalized intensity", "titleFont": "Liberation Sans", "titleFontSize": 23, "titleFontWeight": "bold", "titleColor": "#000000", "titlePadding": 15, "titleY": 188}},
"color": {"field": "name", "type": "nominal",
 "scale": {"domain": ["1.30 μJ/pulse, 100 μm/s @ 1030 nm", "1.20 μJ/pulse, 300 μm/s @ 1030 nm", "0.35 μJ/pulse, 300 μm/s @ 343 nm", "0.20 μJ/pulse, 100 μm/s @ 343 nm"], "range": ["#6e1010", "#e80000", "#80d040", "#1515e8"]},
 "legend": {"orient": "top-left", "title": null, "offset": 4, "padding": 0, "symbolOpacity": 0, "symbolSize": 0, "symbolStrokeWidth": 0, "labelOffset": -16, "labelFont": "Liberation Sans", "labelFontSize": 17, "labelFontWeight": "bold", "labelLimit": 700, "rowPadding": 3, "labelColor": {"expr": "datum.value == '1.30 μJ/pulse, 100 μm/s @ 1030 nm' ? '#8b3a3a' : datum.value == '1.20 μJ/pulse, 300 μm/s @ 1030 nm' ? '#ff0000' : datum.value == '0.35 μJ/pulse, 300 μm/s @ 343 nm' ? '#7cc34a' : '#1a1ae6'"}}}
}
}
],
"resolve": {"scale": {"color": "independent"}}
}
